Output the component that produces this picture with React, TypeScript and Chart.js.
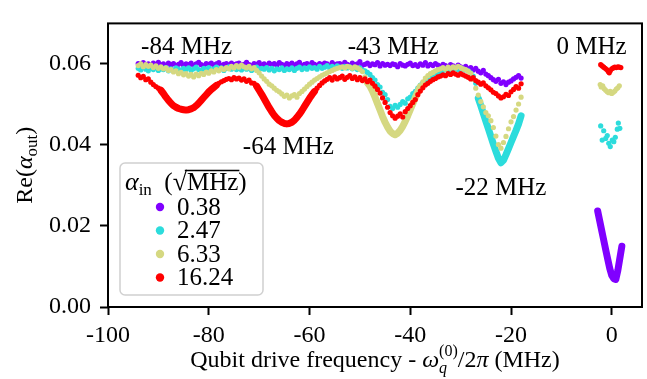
import React, { useEffect, useRef } from "react";
import { Chart, registerables } from "chart.js";

Chart.register(...registerables);

const FONT = '"Liberation Serif", "Times New Roman", serif';
const FS = 24;

// ---------------- data ----------------
const freqs = [
  -94, -93.5, -93, -92.5, -92, -91.5, -91, -90.5, -90, -89.5,
  -89, -88.5, -88, -87.5, -87, -86.5, -86, -85.5, -85, -84.5,
  -84, -83.5, -83, -82.5, -82, -81.5, -81, -80.5, -80, -79.5,
  -79, -78.5, -78, -77.5, -77, -76.5, -76, -75.5, -75, -74.5,
  -74, -73.5, -73, -72.5, -72, -71.5, -71, -70.5, -70, -69.5,
  -69, -68.5, -68, -67.5, -67, -66.5, -66, -65.5, -65, -64.5,
  -64, -63.5, -63, -62.5, -62, -61.5, -61, -60.5, -60, -59.5,
  -59, -58.5, -58, -57.5, -57, -56.5, -56, -55.5, -55, -54.5,
  -54, -53.5, -53, -52.5, -52, -51.5, -51, -50.5, -50, -49.5,
  -49, -48.5, -48, -47.5, -47, -46.5, -46, -45.5, -45, -44.5,
  -44, -43.5, -43, -42.5, -42, -41.5, -41, -40.5, -40, -39.5,
  -39, -38.5, -38, -37.5, -37, -36.5, -36, -35.5, -35, -34.5,
  -34, -33.5, -33, -32.5, -32, -31.5, -31, -30.5, -30, -29.5,
  -29, -28.5, -28, -27.5, -27, -26.5, -26, -25.5, -25, -24.5,
  -24, -23.5, -23, -22.5, -22, -21.5, -21, -20.5, -20, -19.5,
  -19, -18.5, -18,
];

const purpleMain = [
  0.0601, 0.0597, 0.0603, 0.0598, 0.0600, 0.0596, 0.0602, 0.0599, 0.0604, 0.0597,
  0.0600, 0.0595, 0.0602, 0.0598, 0.0601, 0.0596, 0.0599, 0.0603, 0.0597, 0.0600,
  0.0598, 0.0602, 0.0596, 0.0600, 0.0604, 0.0598, 0.0595, 0.0601, 0.0599, 0.0602,
  0.0597, 0.0600, 0.0603, 0.0596, 0.0599, 0.0601, 0.0597, 0.0602, 0.0598, 0.0600,
  0.0602, 0.0597, 0.0599, 0.0604, 0.0598, 0.0595, 0.0601, 0.0599, 0.0603, 0.0597,
  0.0600, 0.0596, 0.0602, 0.0598, 0.0601, 0.0597, 0.0603, 0.0599, 0.0596, 0.0601,
  0.0598, 0.0602, 0.0597, 0.0600, 0.0604, 0.0596, 0.0599, 0.0601, 0.0597, 0.0603,
  0.0599, 0.0596, 0.0601, 0.0598, 0.0602, 0.0600, 0.0595, 0.0603, 0.0598, 0.0600,
  0.0601, 0.0597, 0.0604, 0.0599, 0.0596, 0.0602, 0.0598, 0.0600, 0.0606, 0.0597,
  0.0599, 0.0602, 0.0596, 0.0600, 0.0598, 0.0603, 0.0595, 0.0601, 0.0597, 0.0599,
  0.0596, 0.0600, 0.0598, 0.0593, 0.0601, 0.0597, 0.0595, 0.0599, 0.0602, 0.0596,
  0.0598, 0.0594, 0.0600, 0.0597, 0.0603, 0.0595, 0.0599, 0.0596, 0.0601, 0.0597,
  0.0594, 0.0599, 0.0596, 0.0592, 0.0598, 0.0595, 0.0590, 0.0597, 0.0593, 0.0589,
  0.0594, 0.0588, 0.0591, 0.0585, 0.0589, 0.0582, 0.0578, 0.0584, 0.0575, 0.0571,
  0.0566, 0.0561, 0.0557, 0.0562, 0.0552, 0.0556, 0.0549, 0.0555, 0.0558, 0.0563,
  0.0567, 0.0571, 0.0565,
];

const cyanMain = [
  0.0589, 0.0585, 0.0592, 0.0587, 0.0583, 0.0590, 0.0586, 0.0591, 0.0584, 0.0588,
  0.0586, 0.0591, 0.0583, 0.0588, 0.0585, 0.0590, 0.0587, 0.0582, 0.0589, 0.0586,
  0.0590, 0.0584, 0.0588, 0.0592, 0.0586, 0.0583, 0.0589, 0.0587, 0.0591, 0.0585,
  0.0588, 0.0592, 0.0586, 0.0590, 0.0584, 0.0589, 0.0593, 0.0587, 0.0590, 0.0586,
  0.0589, 0.0585, 0.0591, 0.0587, 0.0590, 0.0584, 0.0588, 0.0592, 0.0586, 0.0589,
  0.0587, 0.0591, 0.0585, 0.0589, 0.0583, 0.0588, 0.0586, 0.0590, 0.0584, 0.0588,
  0.0586, 0.0590, 0.0584, 0.0589, 0.0592, 0.0586, 0.0590, 0.0587, 0.0593, 0.0589,
  0.0591, 0.0587, 0.0594, 0.0589, 0.0592, 0.0596, 0.0590, 0.0594, 0.0591, 0.0595,
  0.0592, 0.0589, 0.0594, 0.0590, 0.0593, 0.0588, 0.0591, 0.0586, 0.0590, 0.0585,
  0.0583, 0.0579, 0.0574, 0.0566, 0.0560, 0.0549, 0.0543, 0.0530, 0.0524, 0.0512,
  0.0495, 0.0490, 0.0498, 0.0493, 0.0500, 0.0507, 0.0503, 0.0514, 0.0518, 0.0527,
  0.0532, 0.0540, 0.0548, 0.0553, 0.0559, 0.0563, 0.0568, 0.0572, 0.0576, 0.0579,
  0.0581, 0.0584, 0.0586, 0.0583, 0.0588, 0.0585, 0.0589, 0.0586, 0.0590, 0.0587,
  0.0585, 0.0583, 0.0578, 0.0570, 0.0552, 0.0515, 0.0497, 0.0478, 0.0459, 0.0440,
  0.0421, 0.0402, 0.0384, 0.0367, 0.0356, 0.0362, 0.0376, 0.0391, 0.0406, 0.0421,
  0.0436, 0.0452, 0.0472,
];

const khakiMain = [
  0.0596, 0.0600, 0.0593, 0.0598, 0.0594, 0.0597, 0.0591, 0.0595, 0.0589, 0.0593,
  0.0588, 0.0590, 0.0584, 0.0586, 0.0580, 0.0583, 0.0576, 0.0579, 0.0573, 0.0576,
  0.0570, 0.0574, 0.0568, 0.0575, 0.0571, 0.0577, 0.0574, 0.0580, 0.0577, 0.0583,
  0.0580, 0.0586, 0.0583, 0.0589, 0.0586, 0.0591, 0.0588, 0.0594, 0.0590, 0.0596,
  0.0592, 0.0597, 0.0593, 0.0590, 0.0594, 0.0588, 0.0591, 0.0584, 0.0578, 0.0570,
  0.0563, 0.0557, 0.0550, 0.0546, 0.0540, 0.0535, 0.0531, 0.0526, 0.0520, 0.0523,
  0.0516, 0.0521, 0.0524, 0.0518, 0.0527, 0.0532, 0.0538, 0.0544, 0.0550, 0.0555,
  0.0560, 0.0564, 0.0568, 0.0572, 0.0575, 0.0578, 0.0581, 0.0584, 0.0587, 0.0589,
  0.0591, 0.0593, 0.0590, 0.0594, 0.0592, 0.0589, 0.0593, 0.0590, 0.0586, 0.0581,
  0.0568, 0.0553, 0.0545, 0.0533, 0.0518, 0.0502, 0.0486, 0.0470, 0.0456, 0.0444,
  0.0434, 0.0428, 0.0425, 0.0429, 0.0436, 0.0446, 0.0458, 0.0472, 0.0487, 0.0502,
  0.0517, 0.0531, 0.0544, 0.0556, 0.0565, 0.0571, 0.0576, 0.0579, 0.0583, 0.0586,
  0.0588, 0.0591, 0.0587, 0.0592, 0.0589, 0.0593, 0.0590, 0.0594, 0.0591, 0.0588,
  0.0586, 0.0582, 0.0577, 0.0562, 0.0540, 0.0523, 0.0507, 0.0494, 0.0480, 0.0472,
  0.0460, 0.0443, 0.0422, 0.0401, 0.0392, 0.0406, 0.0421, 0.0440, 0.0457, 0.0470,
  0.0486, 0.0501, 0.0518,
];

const redMain = [
  0.0572, 0.0566, 0.0569, 0.0561, 0.0563, 0.0555, 0.0549, 0.0544, 0.0540, 0.0535,
  0.0527, 0.0518, 0.0510, 0.0503, 0.0497, 0.0493, 0.0490, 0.0488, 0.0487, 0.0486,
  0.0487, 0.0489, 0.0492, 0.0497, 0.0503, 0.0510, 0.0517, 0.0524, 0.0531, 0.0537,
  0.0542, 0.0547, 0.0552, 0.0556, 0.0559, 0.0562, 0.0564, 0.0561, 0.0566, 0.0563,
  0.0565, 0.0560, 0.0563, 0.0557, 0.0560, 0.0553, 0.0552, 0.0545, 0.0535, 0.0525,
  0.0514, 0.0503, 0.0492, 0.0482, 0.0473, 0.0466, 0.0460, 0.0456, 0.0453, 0.0452,
  0.0453, 0.0456, 0.0461, 0.0468, 0.0476, 0.0485, 0.0495, 0.0505, 0.0515, 0.0524,
  0.0532, 0.0540, 0.0547, 0.0553, 0.0558, 0.0562, 0.0566, 0.0560, 0.0568, 0.0563,
  0.0566, 0.0570, 0.0562, 0.0567, 0.0571, 0.0564, 0.0568, 0.0561, 0.0566, 0.0559,
  0.0563, 0.0556, 0.0560, 0.0552, 0.0545, 0.0537, 0.0528, 0.0516, 0.0505, 0.0493,
  0.0480, 0.0472, 0.0466, 0.0471, 0.0477, 0.0469, 0.0482, 0.0490, 0.0497, 0.0505,
  0.0512, 0.0524, 0.0533, 0.0541, 0.0548, 0.0552, 0.0557, 0.0561, 0.0564, 0.0568,
  0.0570, 0.0573, 0.0571, 0.0576, 0.0574, 0.0578, 0.0575, 0.0572, 0.0576, 0.0573,
  0.0570, 0.0567, 0.0563, 0.0566, 0.0559, 0.0555, 0.0550, 0.0553, 0.0546, 0.0541,
  0.0536, 0.0530, 0.0527, 0.0521, 0.0516, 0.0519, 0.0525, 0.0522, 0.0531, 0.0537,
  0.0544, 0.0540, 0.0551,
];

// sweep near the 0 MHz resonance
const purpleZeroFreqs = [-2.8, -2.4, -2.0, -1.6, -1.2, -0.8, -0.4, 0, 0.4, 0.8, 1.2, 1.6, 2.0];
const purpleZero = [0.0237, 0.0213, 0.0189, 0.0165, 0.0141, 0.0118, 0.0095, 0.0078, 0.0070, 0.0068, 0.0090, 0.0120, 0.0150];
const cyanZeroFreqs = [-2.2, -1.9, -1.6, -1.2, -0.9, -0.6, -0.3, 0.1, 0.4, 0.7, 1.1, 1.3, 1.6];
const cyanZero = [0.0447, 0.0412, 0.0435, 0.0416, 0.0423, 0.0404, 0.0396, 0.0412, 0.0408, 0.0419, 0.0439, 0.0454, 0.0441];
const khakiZeroFreqs = [-2.3, -2.1, -1.8, -1.5, -1.2, -0.9, -0.6, -0.3, 0, 0.3, 0.6, 0.9, 1.2, 1.5];
const khakiZero = [0.0549, 0.0543, 0.0546, 0.0539, 0.0535, 0.0531, 0.0529, 0.0532, 0.0527, 0.0530, 0.0533, 0.0538, 0.0541, 0.0546];
const redZeroFreqs = [-2.2, -1.9, -1.6, -1.3, -1.0, -0.7, -0.5, -0.3, 0, 0.3, 0.6, 0.9, 1.2, 1.5, 1.8];
const redZero = [0.0598, 0.0595, 0.0592, 0.0589, 0.0586, 0.0581, 0.0578, 0.0583, 0.0588, 0.0590, 0.0592, 0.0591, 0.0593, 0.0592, 0.0591];

// densely sampled stretches (drawn as a thick band)
const purpleDense: number[][] = [];
const cyanDense = [[-26.5, -18]];
const khakiDense = [[-48.5, -38]];
const redDense = [[-89.5, -78.5], [-70.5, -59]];

const legendTitle = "αin (√MHz)";
const seriesLabels = ["0.38", "2.47", "6.33", "16.24"];
const seriesColors = ["#8000ff", "#2cdcdc", "#d5d881", "#ff0000"];

const annotLabels = ["-84 MHz", "-43 MHz", "0 MHz", "-64 MHz", "-22 MHz"];
const annotX = [-84.4, -43.4, -4.0, -64.2, -22.0];
const annotY = [0.064, 0.064, 0.064, 0.0395, 0.0293];

const xTicks = [-100, -80, -60, -40, -20, 0];
const yTicks = [0, 0.02, 0.04, 0.06];

// ---------------- rich text helpers ----------------
type Seg = { t: string; size?: number; italic?: boolean; dy?: number; adv0?: boolean; over?: boolean };

function segFont(s: Seg) {
  return `${s.italic ? "italic " : ""}${s.size || FS}px ${FONT}`;
}
function richWidth(ctx: CanvasRenderingContext2D, segs: Seg[]) {
  let w = 0;
  for (const s of segs) {
    ctx.font = segFont(s);
    if (!s.adv0) w += ctx.measureText(s.t).width;
  }
  return w;
}
function drawRich(ctx: CanvasRenderingContext2D, segs: Seg[], x: number, y: number) {
  let cx = x;
  let sqrtStart = -1;
  for (const s of segs) {
    ctx.font = segFont(s);
    const m = ctx.measureText(s.t);
    ctx.fillText(s.t, cx, y + (s.dy || 0));
    if (s.t === "√") {
      sqrtStart = cx + m.width * 0.85;
    }
    if (s.over && sqrtStart >= 0) {
      ctx.save();
      ctx.lineWidth = 1.6;
      ctx.beginPath();
      const ly = y - (s.size || FS) * 0.78;
      ctx.moveTo(sqrtStart, ly);
      ctx.lineTo(cx + m.width + 1, ly);
      ctx.stroke();
      ctx.restore();
    }
    if (!s.adv0) cx += m.width;
  }
  return cx;
}

const overlay = {
  id: "overlay",
  afterDatasetsDraw(chart: any) {
    const { ctx, chartArea: ca, scales } = chart;
    ctx.save();
    // frame
    ctx.strokeStyle = "#000";
    ctx.lineWidth = 2;
    ctx.strokeRect(ca.left, ca.top, ca.right - ca.left, ca.bottom - ca.top);

    // annotations
    ctx.fillStyle = "#000";
    ctx.textAlign = "center";
    ctx.textBaseline = "middle";
    ctx.font = `25px ${FONT}`;
    annotLabels.forEach((t, i) => {
      ctx.fillText(t, scales.x.getPixelForValue(annotX[i]), scales.y.getPixelForValue(annotY[i]));
    });

    // legend
    const bx = ca.left + 12;
    const bw = 143;
    const bh = 132;
    const by = ca.bottom - 12 - bh;
    ctx.beginPath();
    ctx.roundRect(bx, by, bw, bh, 5);
    ctx.fillStyle = "rgba(255,255,255,0.85)";
    ctx.fill();
    ctx.strokeStyle = "#d0d0d0";
    ctx.lineWidth = 1.5;
    ctx.stroke();

    ctx.fillStyle = "#000";
    ctx.strokeStyle = "#000";
    ctx.textAlign = "left";
    ctx.textBaseline = "alphabetic";
    const titleSegs: Seg[] = [
      { t: legendTitle.slice(0, 1), italic: true, size: 26 },
      { t: legendTitle.slice(1, 3), size: 17, dy: 5 },
      { t: "  (", size: 25 },
      { t: "√", size: 26 },
      { t: "MHz", size: 25, over: true },
      { t: ")", size: 25 },
    ];
    drawRich(ctx, titleSegs, bx + 5, by + 27);
    seriesLabels.forEach((lab, i) => {
      const cy = by + 44 + i * 23.5;
      ctx.beginPath();
      ctx.arc(bx + 40, cy, 4.2, 0, Math.PI * 2);
      ctx.fillStyle = seriesColors[i];
      ctx.fill();
      ctx.fillStyle = "#000";
      ctx.font = `25px ${FONT}`;
      ctx.textBaseline = "middle";
      ctx.fillText(lab, bx + 57, cy + 1);
      ctx.textBaseline = "alphabetic";
    });
    ctx.restore();
  },
  afterDraw(chart: any) {
    const { ctx, chartArea: ca } = chart;
    ctx.save();
    ctx.fillStyle = "#000";
    ctx.textAlign = "left";
    ctx.textBaseline = "alphabetic";
    // x title
    const xs: Seg[] = [
      { t: "Qubit drive frequency - " },
      { t: "ω", italic: true },
      { t: "q", italic: true, size: 16, dy: 6, adv0: true },
      { t: "(0)", size: 16, dy: -11 },
      { t: "/2" },
      { t: "π", italic: true },
      { t: " (MHz)" },
    ];
    const xw = richWidth(ctx, xs);
    drawRich(ctx, xs, (ca.left + ca.right) / 2 - xw / 2, 367);
    // y title
    const ys: Seg[] = [
      { t: "Re(" },
      { t: "α", italic: true },
      { t: "out", size: 17, dy: 5 },
      { t: ")" },
    ];
    const yw = richWidth(ctx, ys);
    ctx.translate(32, (ca.top + ca.bottom) / 2);
    ctx.rotate(-Math.PI / 2);
    drawRich(ctx, ys, -yw / 2, 0);
    ctx.restore();
  },
};

function inRanges(x: number, ranges: number[][]) {
  return ranges.some((r) => x >= r[0] && x <= r[1]);
}

export default function App() {
  const ref = useRef<HTMLCanvasElement>(null);
  useEffect(() => {
    if (!ref.current) return;
    const series = [
      { main: purpleMain, zx: purpleZeroFreqs, zy: purpleZero, dense: purpleDense, zeroBand: true },
      { main: cyanMain, zx: cyanZeroFreqs, zy: cyanZero, dense: cyanDense, zeroBand: false },
      { main: khakiMain, zx: khakiZeroFreqs, zy: khakiZero, dense: khakiDense, zeroBand: false },
      { main: redMain, zx: redZeroFreqs, zy: redZero, dense: redDense, zeroBand: false },
    ];
    const datasets: any[] = [];
    series.forEach((s, i) => {
      const color = seriesColors[i];
      const order = 3 - i;
      const pts = freqs.map((x, k) => ({ x, y: s.main[k] }));
      const zpts = s.zx.map((x, k) => ({ x, y: s.zy[k] }));
      datasets.push({
        label: seriesLabels[i],
        data: s.zeroBand ? pts : pts.concat(zpts),
        backgroundColor: color,
        borderWidth: 0,
        pointRadius: 2.6,
        showLine: false,
        order,
      });
      const bands = s.dense.map((r) => pts.filter((p) => inRanges(p.x, [r])));
      if (s.zeroBand) bands.push(zpts);
      bands.forEach((b) => {
        datasets.push({
          label: seriesLabels[i] + " band",
          data: b,
          showLine: true,
          borderColor: color,
          backgroundColor: color,
          borderWidth: 7,
          pointRadius: 0,
          borderCapStyle: "round",
          borderJoinStyle: "round",
          order,
        });
      });
    });

    const tickFont = { family: FONT, size: FS };
    const chart = new Chart(ref.current, {
      type: "scatter",
      data: { datasets },
      options: {
        animation: false,
        responsive: false,
        events: [],
        layout: { padding: { top: 6, right: 5, left: 0, bottom: 0 }, autoPadding: false },
        plugins: { legend: { display: false }, tooltip: { enabled: false } },
        scales: {
          x: {
            type: "linear",
            min: -100,
            max: 6,
            afterBuildTicks: (s: any) => {
              s.ticks = xTicks.map((v) => ({ value: v }));
            },
            afterFit: (s: any) => {
              s.height = 72;
            },
            grid: { display: true, drawOnChartArea: false, drawTicks: true, tickLength: 8, tickWidth: 2, tickColor: "#000" },
            border: { display: false },
            ticks: { color: "#000", font: tickFont, padding: 6, maxRotation: 0, autoSkip: false, callback: (v: any) => String(v) },
          },
          y: {
            type: "linear",
            min: 0,
            max: 0.07,
            afterBuildTicks: (s: any) => {
              s.ticks = yTicks.map((v) => ({ value: v }));
            },
            afterFit: (s: any) => {
              s.width = 108;
            },
            grid: { display: true, drawOnChartArea: false, drawTicks: true, tickLength: 8, tickWidth: 2, tickColor: "#000" },
            border: { display: false },
            ticks: { color: "#000", font: tickFont, padding: 9, autoSkip: false, callback: (v: any) => Number(v).toFixed(2) },
          },
        },
      } as any,
      plugins: [overlay],
    });
    return () => chart.destroy();
  }, []);
  return (
    <div style={{ position: "absolute", left: 0, top: 0, width: 647, height: 379, background: "#fff" }}>
      <canvas ref={ref} width={647} height={379} style={{ display: "block" }} />
    </div>
  );
}
